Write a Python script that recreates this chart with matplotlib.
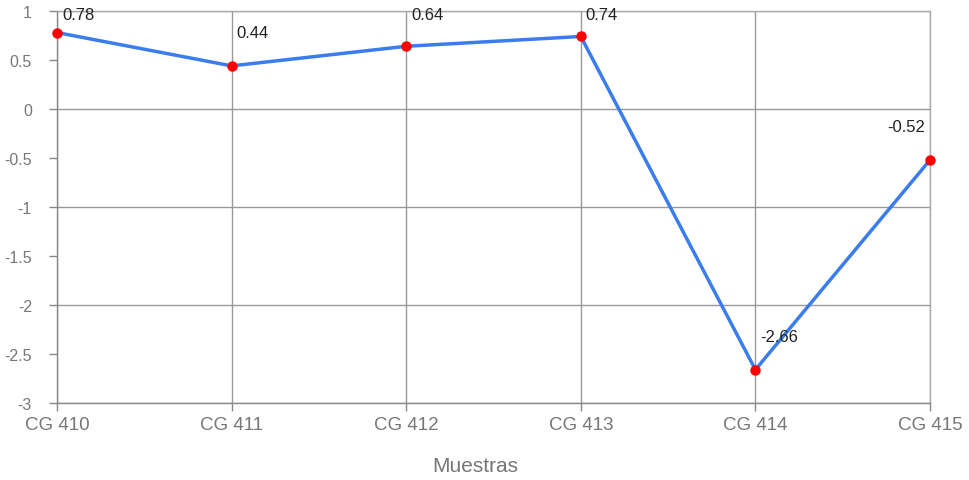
import matplotlib.pyplot as plt

# data
muestras = ['CG 410', 'CG 411', 'CG 412', 'CG 413', 'CG 414', 'CG 415']
valores = [0.78, 0.44, 0.64, 0.74, -2.66, -0.52]
yticks = [1, 0.5, 0, -0.5, -1, -1.5, -2, -2.5, -3]
ytick_labels = ['1', '0.5', '0', '-0.5', '-1', '-1.5', '-2', '-2.5', '-3']

plt.rcParams['font.family'] = ['Liberation Sans', 'DejaVu Sans']

fig = plt.figure(figsize=(9.69, 4.81), dpi=100)
ax = fig.add_axes([57/969, 1-404/481, (930-57)/969, (404-12)/481])

x = list(range(len(muestras)))
ax.plot(x, valores, color='#3b7ded', lw=2.5, zorder=3, clip_on=False)
ax.plot(x, valores, 'o', color='#ff0000', ms=6.5, zorder=4, clip_on=False)

ax.set_xlim(0, len(muestras)-1)
ax.set_ylim(-3, 1)

# gridlines only at whole numbers
for yv in [1, 0, -1, -2, -3]:
    ax.axhline(yv, color='#999999', lw=1, zorder=1)
for xv in x:
    ax.axvline(xv, color='#999999', lw=1, zorder=1)

ax.set_xticks(x)
ax.set_xticklabels(muestras, fontsize=13.5, color='#777777')
ax.set_yticks(yticks)
ax.set_yticklabels(ytick_labels, fontsize=11.5, color='#777777')
ax.tick_params(axis='both', color='#888888', length=6, width=1)
ax.tick_params(axis='x', pad=3)
ax.tick_params(axis='y', pad=12)

for s in ax.spines.values():
    s.set_color('#aaaaaa')
    s.set_linewidth(1)
ax.spines['left'].set_color('#888888')
ax.spines['bottom'].set_color('#888888')

# value labels, about 33 px above each point (kept inside the top)
for i, v in enumerate(valores):
    if i == len(valores) - 1:
        ax.annotate(f'{v:g}', (i, v), xytext=(-5, 33), textcoords='offset pixels',
                    ha='right', va='center', fontsize=12, color='#222222')
    else:
        off = max(min(33, (1 - v) * 98 - 4), 16)
        ax.annotate(f'{v:g}', (i, v), xytext=(5, off), textcoords='offset pixels',
                    ha='left', va='center', fontsize=12, color='#222222',
                    annotation_clip=False)

fig.text(475/969, 1-467/481, 'Muestras', ha='center', va='center', fontsize=15, color='#777777')

fig.savefig('out.png', dpi=100)
